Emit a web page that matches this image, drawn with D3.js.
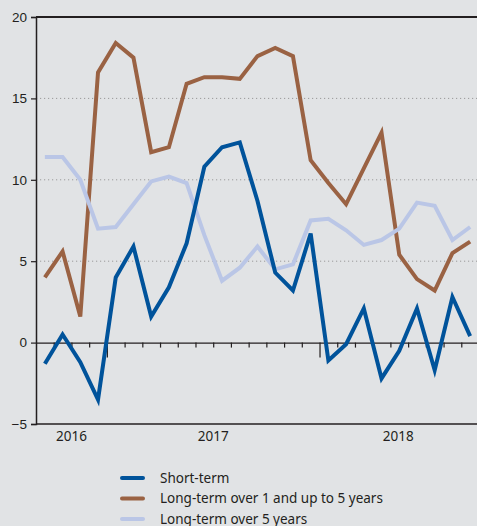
<!DOCTYPE html>
<html>
<head>
<meta charset="utf-8">
<script src="https://cdn.jsdelivr.net/npm/d3@7"></script>
<style>
  body { margin: 0; background: #e1e3e5; }
  svg { display: block; font-family: "Noto Sans", sans-serif; }
</style>
</head>
<body>
<svg></svg>
<script>
// Monthly data, Sep 2016 - Sep 2018
const months = d3.range(25); // 0 = Sep 2016
const shortTerm = [-1.3, 0.5, -1.2, -3.5, 4.0, 5.9, 1.6, 3.4, 6.1, 10.8, 12.0, 12.3, 8.7, 4.3, 3.2, 6.7, -1.1, -0.1, 2.1, -2.2, -0.5, 2.1, -1.7, 2.8, 0.4];
const longTerm1to5 = [4.0, 5.6, 1.6, 16.6, 18.4, 17.5, 11.7, 12.0, 15.9, 16.3, 16.3, 16.2, 17.6, 18.1, 17.6, 11.2, 9.8, 8.5, 10.7, 12.9, 5.4, 3.9, 3.2, 5.5, 6.2];
const longTermOver5 = [11.4, 11.4, 10.0, 7.0, 7.1, 8.5, 9.9, 10.2, 9.8, 6.6, 3.8, 4.6, 5.9, 4.5, 4.8, 7.5, 7.6, 6.9, 6.0, 6.3, 7.0, 8.6, 8.4, 6.3, 7.1];
const yTicks = [-5, 0, 5, 10, 15, 20];
const years = [{ label: "2016", from: -0.5, to: 3.5 }, { label: "2017", from: 3.5, to: 15.5 }, { label: "2018", from: 15.5, to: 24.5 }];
const seriesNames = ["Short-term", "Long-term over 1 and up to 5 years", "Long-term over 5 years"];

const width = 477;
const height = 526;
const margin = { top: 17, right: -2, bottom: 102, left: 36 };

const svg = d3.select("svg")
  .attr("width", width)
  .attr("height", height);

svg.append("rect").attr("width", width).attr("height", height).attr("fill", "#e1e3e5");

const x = d3.scaleLinear()
  .domain([-0.5, 24.5])
  .range([margin.left, width - margin.right]);

const y = d3.scaleLinear()
  .domain([-5, 20])
  .range([height - margin.bottom, margin.top]);

const ink = "#231f20";

// dotted grid
svg.append("g")
  .selectAll("line")
  .data([5, 10, 15])
  .enter()
  .append("line")
  .attr("x1", margin.left)
  .attr("x2", width)
  .attr("y1", d => y(d))
  .attr("y2", d => y(d))
  .attr("stroke", "#9a9a9a")
  .attr("stroke-width", 1)
  .attr("stroke-dasharray", "1.2,2.8");

// y axis
const yAxis = svg.append("g")
  .attr("transform", `translate(${margin.left},0)`)
  .call(d3.axisLeft(y).tickValues(yTicks).tickSize(5).tickPadding(4).tickFormat(d3.format("d")));
yAxis.select(".domain").attr("stroke", ink).attr("stroke-width", 1.5);
yAxis.selectAll(".tick line").attr("stroke", ink).attr("stroke-width", 1.2);
yAxis.selectAll(".tick text").attr("fill", ink).style("font-size", "13.5px");

// frame top and bottom
svg.append("line")
  .attr("x1", margin.left).attr("x2", width)
  .attr("y1", y(20)).attr("y2", y(20))
  .attr("stroke", ink).attr("stroke-width", 2);
svg.append("line")
  .attr("x1", margin.left).attr("x2", width)
  .attr("y1", y(-5)).attr("y2", y(-5))
  .attr("stroke", ink).attr("stroke-width", 1.5);

// zero line with month ticks
const boundaries = d3.range(0.5, 24.5, 1);
const xAxis = svg.append("g")
  .attr("transform", `translate(0,${y(0)})`)
  .call(d3.axisBottom(x).tickValues(boundaries).tickSize(5).tickFormat("").tickSizeOuter(0));
xAxis.select(".domain").attr("stroke", ink).attr("stroke-width", 1.2);
xAxis.selectAll(".tick line")
  .attr("stroke", ink)
  .attr("stroke-width", 1.2)
  .attr("y2", d => (d === 3.5 || d === 15.5) ? 15 : 5);

// year labels
svg.append("g")
  .selectAll("text")
  .data(years)
  .enter()
  .append("text")
  .attr("x", d => (x(d.from) + Math.min(x(d.to), width)) / 2)
  .attr("y", y(-5) + 17)
  .attr("text-anchor", "middle")
  .attr("fill", ink)
  .style("font-size", "13.5px")
  .text(d => d.label);

// lines
const colors = ["#00539b", "#9a6243", "#bac6e6"];
const allSeries = [shortTerm, longTerm1to5, longTermOver5];
const line = d3.line()
  .x((d, i) => x(months[i]))
  .y(d => y(d));

[1, 2, 0].forEach(k => {
  svg.append("path")
    .datum(allSeries[k])
    .attr("fill", "none")
    .attr("stroke", colors[k])
    .attr("stroke-width", 4)
    .attr("stroke-linejoin", "miter")
    .attr("d", line);
});

// legend
const legend = svg.append("g")
  .selectAll("g")
  .data(seriesNames)
  .enter()
  .append("g")
  .attr("transform", (d, i) => `translate(122,${478 + i * 20.5})`);

legend.append("line")
  .attr("x1", 0).attr("x2", 21)
  .attr("stroke", (d, i) => colors[i])
  .attr("stroke-width", 4)
  .attr("stroke-linecap", "round");

legend.append("text")
  .attr("x", 38)
  .attr("dy", "0.35em")
  .attr("fill", ink)
  .style("font-size", "13.5px")
  .text(d => d);
</script>
</body>
</html>
